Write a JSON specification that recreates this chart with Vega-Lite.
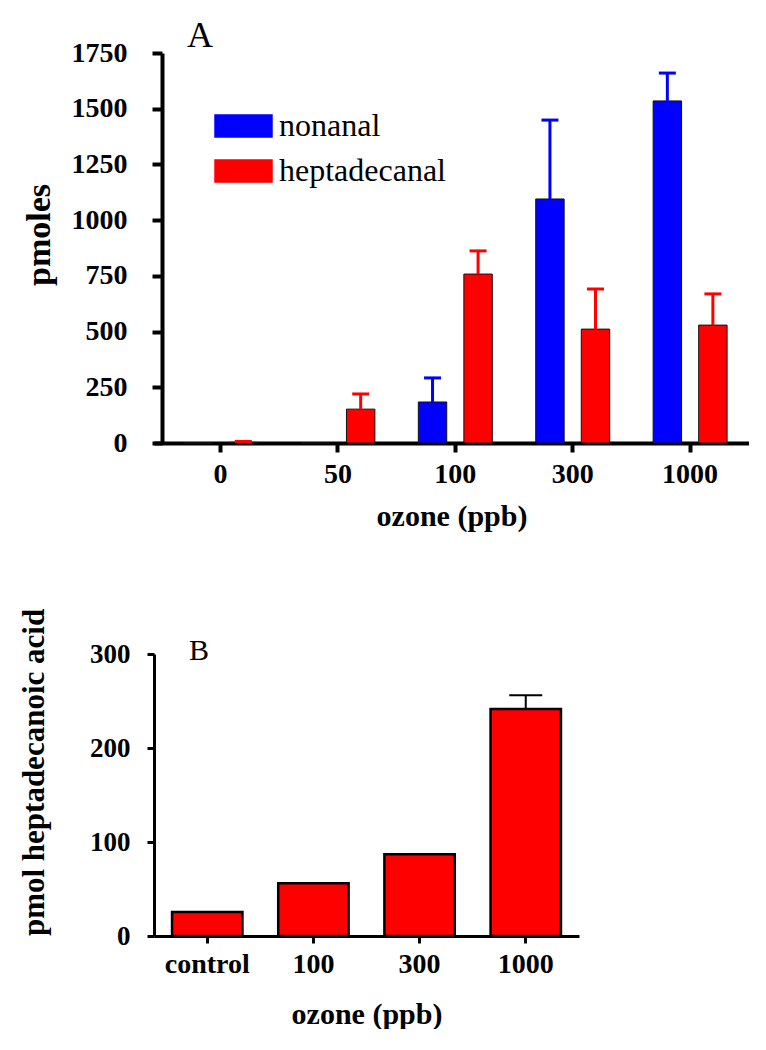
{
  "$schema": "https://vega.github.io/schema/vega-lite/v6.json",
  "background": "white",
  "padding": {"left": 18, "top": 18, "right": 0, "bottom": 0},
  "spacing": 77,
  "config": {
    "view": {"stroke": null},
    "axis": {
      "grid": false,
      "labelFont": "Liberation Serif",
      "labelFontWeight": "bold",
      "labelColor": "black",
      "titleFont": "Liberation Serif",
      "titleFontWeight": "bold",
      "titleColor": "black",
      "domainColor": "black",
      "tickColor": "black"
    },
    "title": {"font": "Liberation Serif", "fontWeight": "normal", "color": "black"}
  },
  "vconcat": [
    {
      "width": 595,
      "height": 390,
      "title": {"text": "A", "anchor": "start", "frame": "group", "dx": 33, "offset": -44, "baseline": "alphabetic", "fontSize": 36},
      "data": {
        "values": [
          {"ozone": "0", "compound": "nonanal", "value": 0, "upper": null},
          {"ozone": "0", "compound": "heptadecanal", "value": 3, "upper": 7},
          {"ozone": "50", "compound": "nonanal", "value": 0, "upper": null},
          {"ozone": "50", "compound": "heptadecanal", "value": 152, "upper": 220},
          {"ozone": "100", "compound": "nonanal", "value": 184, "upper": 292},
          {"ozone": "100", "compound": "heptadecanal", "value": 758, "upper": 862},
          {"ozone": "300", "compound": "nonanal", "value": 1095, "upper": 1449},
          {"ozone": "300", "compound": "heptadecanal", "value": 511, "upper": 691},
          {"ozone": "1000", "compound": "nonanal", "value": 1535, "upper": 1660},
          {"ozone": "1000", "compound": "heptadecanal", "value": 529, "upper": 669}
        ]
      },
      "encoding": {
        "x": {
          "field": "ozone", "type": "nominal", "sort": ["0", "50", "100", "300", "1000"],
          "scale": {"paddingInner": 0.37, "paddingOuter": 0.219, "align": 0.574},
          "axis": {
            "labelAngle": 0, "labelFontSize": 28, "labelPadding": 8,
            "domainWidth": 4, "tickWidth": 4, "tickSize": 9,
            "title": "ozone (ppb)", "titleFontSize": 30, "titleY": 82, "titleBaseline": "alphabetic"
          }
        },
        "xOffset": {
          "field": "compound", "type": "nominal", "sort": ["nonanal", "heptadecanal"],
          "scale": {"paddingInner": 0.376, "paddingOuter": 0}
        }
      },
      "layer": [
        {
          "mark": {"type": "bar", "stroke": "#111111", "strokeWidth": 1},
          "encoding": {
            "y": {
              "field": "value", "type": "quantitative",
              "scale": {"domain": [0, 1750], "nice": false},
              "axis": {
                "offset": -8,
                "values": [0, 250, 500, 750, 1000, 1250, 1500, 1750], "format": "d",
                "labelFontSize": 28, "labelPadding": 25,
                "domainWidth": 4, "tickWidth": 4, "tickSize": 10,
                "title": "pmoles", "titleFontSize": 34, "titleX": -113, "titleY": 181.5,
                "titleBaseline": "alphabetic", "titleAngle": -90
              }
            },
            "color": {
              "field": "compound", "type": "nominal",
              "scale": {"domain": ["nonanal", "heptadecanal"], "range": ["#0000ff", "#ff0000"]},
              "legend": {
                "orient": "none", "legendX": 66.5, "legendY": 50, "title": null,
                "symbolType": "M-1.295,-0.5L1.295,-0.5L1.295,0.5L-1.295,0.5Z",
                "symbolSize": 1936, "symbolStrokeColor": "black", "symbolStrokeWidth": 1.5,
                "symbolOpacity": 1,
                "labelFont": "Liberation Serif", "labelFontSize": 32, "labelColor": "black",
                "labelLimit": 400,
                "labelOffset": 12.5, "rowPadding": 6, "padding": 0
              }
            }
          }
        },
        {
          "transform": [{"filter": "datum.upper != null"}],
          "mark": {"type": "rule", "strokeWidth": 3},
          "encoding": {
            "y": {"field": "value", "type": "quantitative", "title": "pmoles"},
            "y2": {"field": "upper"},
            "color": {"field": "compound", "type": "nominal", "legend": null}
          }
        },
        {
          "transform": [{"filter": "datum.upper != null"}],
          "mark": {"type": "tick", "thickness": 3, "size": 17, "opacity": 1},
          "encoding": {
            "y": {"field": "upper", "type": "quantitative", "title": "pmoles"},
            "color": {"field": "compound", "type": "nominal", "legend": null}
          }
        }
      ]
    },
    {
      "width": 425,
      "height": 282,
      "title": {"text": "B", "anchor": "start", "frame": "group", "dx": 35, "offset": -82, "baseline": "alphabetic", "fontSize": 30},
      "data": {
        "values": [
          {"ozone": "control", "value": 25.5, "upper": null},
          {"ozone": "100", "value": 56, "upper": null},
          {"ozone": "300", "value": 87, "upper": null},
          {"ozone": "1000", "value": 241.5, "upper": 256}
        ]
      },
      "encoding": {
        "x": {
          "field": "ozone", "type": "nominal", "sort": ["control", "100", "300", "1000"],
          "scale": {"paddingInner": 0.337, "paddingOuter": 0.17},
          "axis": {
            "labelAngle": 0, "labelFontSize": 28, "labelPadding": 7,
            "domainWidth": 3, "tickWidth": 3, "tickSize": 7,
            "title": "ozone (ppb)", "titleFontSize": 30, "titleY": 87, "titleBaseline": "alphabetic"
          }
        }
      },
      "layer": [
        {
          "mark": {"type": "bar", "fill": "#ff0000", "stroke": "black", "strokeWidth": 2.5},
          "encoding": {
            "y": {
              "field": "value", "type": "quantitative",
              "scale": {"domain": [0, 300], "nice": false},
              "axis": {
                "values": [0, 100, 200, 300], "format": "d",
                "labelFontSize": 27, "labelPadding": 17,
                "domainWidth": 3, "tickWidth": 3, "tickSize": 7,
                "title": "pmol heptadecanoic acid", "titleFontSize": 31, "titleX": -111, "titleY": 118,
                "titleBaseline": "alphabetic", "titleAngle": -90
              }
            }
          }
        },
        {
          "transform": [{"filter": "datum.upper != null"}],
          "mark": {"type": "rule", "strokeWidth": 2, "color": "black"},
          "encoding": {
            "y": {"field": "value", "type": "quantitative", "title": "pmol heptadecanoic acid"},
            "y2": {"field": "upper"}
          }
        },
        {
          "transform": [{"filter": "datum.upper != null"}],
          "mark": {"type": "tick", "thickness": 2, "size": 33, "color": "black", "opacity": 1},
          "encoding": {
            "y": {"field": "upper", "type": "quantitative", "title": "pmol heptadecanoic acid"}
          }
        }
      ]
    }
  ]
}
